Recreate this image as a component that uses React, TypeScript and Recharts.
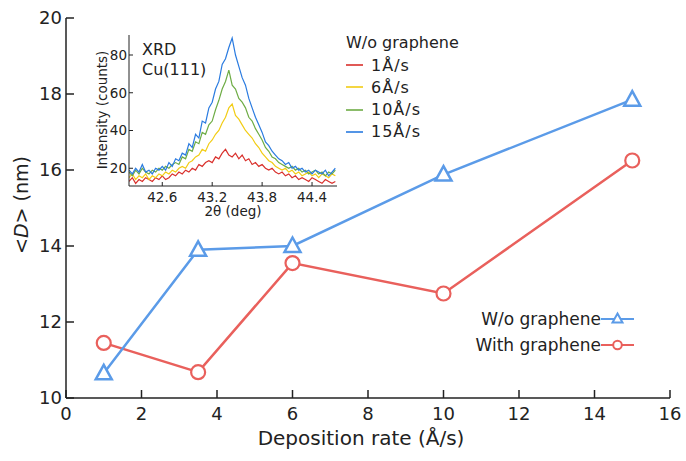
import React from 'react';
import { LineChart, Line, XAxis, YAxis, CartesianGrid } from 'recharts';

// main plot: mean grain size vs deposition rate
const rates = [1, 3.5, 6, 10, 15];
const sizeWithout = [10.65, 13.9, 14.0, 15.88, 17.85];
const sizeWith = [11.45, 10.68, 13.55, 12.75, 16.25];
const rateTicks = [0, 2, 4, 6, 8, 10, 12, 14, 16];
const sizeTicks = [10, 12, 14, 16, 18, 20];

// inset: XRD Cu(111) peak, counts
const twoTheta = [
  42.2, 42.24, 42.28, 42.32, 42.36, 42.4, 42.44, 42.48, 42.52, 42.56, 42.6, 42.64, 42.68, 42.72, 42.76, 42.8,
  42.84, 42.88, 42.92, 42.96, 43.0, 43.04, 43.08, 43.12, 43.16, 43.2, 43.24, 43.28, 43.32, 43.36, 43.4, 43.44,
  43.48, 43.52, 43.56, 43.6, 43.64, 43.68, 43.72, 43.76, 43.8, 43.84, 43.88, 43.92, 43.96, 44.0, 44.04, 44.08,
  44.12, 44.16, 44.2, 44.24, 44.28, 44.32, 44.36, 44.4, 44.44, 44.48, 44.52, 44.56, 44.6, 44.64, 44.68,
];
const counts1 = [
  13, 15, 12, 14, 13, 15, 14, 13, 15, 14, 16, 14, 15, 17, 16, 18, 17, 19, 18, 20, 19, 22, 21, 23, 24, 23, 26, 25,
  28, 30, 27, 26, 28, 25, 27, 24, 25, 22, 23, 21, 22, 20, 19, 20, 18, 17, 18, 16, 17, 15, 16, 14, 15, 14, 13, 15,
  14, 13, 12, 14, 13, 12, 13,
];
const counts6 = [
  15, 17, 14, 16, 15, 17, 14, 16, 15, 17, 16, 18, 17, 19, 18, 20, 21, 20, 23, 24, 26, 27, 30, 29, 33, 35, 38, 40,
  44, 47, 52, 54, 48, 46, 43, 40, 38, 36, 33, 31, 28, 26, 24, 23, 21, 20, 19, 20, 18, 19, 17, 18, 16, 17, 18, 16,
  17, 15, 17, 16, 15, 17, 16,
];
const counts10 = [
  18, 16, 19, 17, 20, 18, 17, 19, 18, 20, 19, 21, 20, 22, 23, 22, 26, 25, 30, 29, 34, 33, 39, 38, 43, 45, 51, 56,
  62, 66, 72, 64, 62, 57, 55, 52, 47, 45, 41, 38, 35, 31, 29, 26, 25, 23, 22, 21, 20, 21, 19, 20, 18, 19, 17, 18,
  19, 17, 18, 16, 18, 17, 19,
];
const counts15 = [
  19, 17, 20, 18, 22, 18, 19, 17, 20, 19, 21, 19, 23, 21, 25, 24, 28, 27, 33, 31, 38, 36, 45, 44, 52, 55, 62, 66,
  75, 78, 84, 89, 80, 74, 68, 64, 57, 52, 47, 43, 39, 34, 32, 29, 27, 25, 24, 22, 23, 20, 21, 19, 20, 18, 19, 17,
  19, 18, 17, 19, 16, 18, 20,
];
const thetaTicks = [42.6, 43.2, 43.8, 44.4];
const countTicks = [20, 40, 60, 80];

const BLUE = '#5b9be8';
const RED = '#e9605c';
const FONT = '"DejaVu Sans", Verdana, sans-serif';
const INK = '#222';

const mainSeries = [
  { key: 'wo', name: 'W/o graphene', color: BLUE, shape: 'triangle' },
  { key: 'with', name: 'With graphene', color: RED, shape: 'circle' },
];
const xrdSeries = [
  { key: 'r1', name: '1Å/s', color: '#d9302c' },
  { key: 'r6', name: '6Å/s', color: '#f2cc14' },
  { key: 'r10', name: '10Å/s', color: '#6eac45' },
  { key: 'r15', name: '15Å/s', color: '#2a7be0' },
];

const mainData = rates.map((x, i) => ({ x, wo: sizeWithout[i], with: sizeWith[i] }));
const xrdData = twoTheta.map((t, i) => ({ t, r1: counts1[i], r6: counts6[i], r10: counts10[i], r15: counts15[i] }));

const Triangle = (props: any) => {
  const { cx, cy } = props;
  if (cx == null || cy == null) return null;
  return (
    <path
      d={`M${cx},${cy - 8.5} L${cx + 8},${cy + 6} L${cx - 8},${cy + 6} Z`}
      fill="#fff"
      stroke={BLUE}
      strokeWidth={2.5}
    />
  );
};

const YLabel = (props: any) => {
  const vb = props.viewBox || { x: 0, y: 18, height: 380 };
  const x = vb.x + 28;
  const y = vb.y + vb.height / 2 - 3;
  return (
    <text x={x} y={y} transform={`rotate(-90, ${x}, ${y})`} textAnchor="middle" fontSize={19} fontFamily={FONT} fill={INK}>
      &lt;<tspan fontStyle="italic">D</tspan>&gt; (nm)
    </text>
  );
};

const XLabel = (props: any) => {
  const vb = props.viewBox || { x: 66, y: 398, width: 604 };
  return (
    <text x={vb.x + vb.width / 2 - 7} y={vb.y + 47} textAnchor="middle" fontSize={20} fontFamily={FONT} fill={INK}>
      Deposition rate (Å/s)
    </text>
  );
};

const IntensityLabel = () => (
  <text x={107} y={110} transform="rotate(-90, 107, 110)" textAnchor="middle" fontSize={13.5} fontFamily={FONT} fill={INK}>
    Intensity (counts)
  </text>
);

const ThetaLabel = () => (
  <text x={233} y={216} textAnchor="middle" fontSize={13.5} fontFamily={FONT} fill={INK}>
    2θ (deg)
  </text>
);

const mainTick = { fontSize: 18, fontFamily: FONT, fill: INK };
const insetTick = { fontSize: 13.5, fontFamily: FONT, fill: INK };
const frame = { stroke: INK, strokeWidth: 1.5 };
const insetFrame = { stroke: INK, strokeWidth: 1 };

export default function App() {
  return (
    <div style={{ position: 'absolute', left: 0, top: 0, width: 686, height: 461, background: '#fff', fontFamily: FONT }}>
      <LineChart width={686} height={461} data={mainData} margin={{ top: 18, right: 16, bottom: 0, left: 0 }}>
        <XAxis
          dataKey="x"
          type="number"
          domain={[0, 16]}
          ticks={rateTicks}
          interval={0}
          height={63}
          tickSize={-8}
          tickMargin={17}
          tick={mainTick}
          axisLine={frame}
          tickLine={frame}
          label={<XLabel />}
        />
        <XAxis
          xAxisId="top"
          orientation="top"
          type="number"
          domain={[0, 16]}
          allowDataOverflow
          ticks={rateTicks}
          interval={0}
          height={0}
          tickSize={-8}
          tick={false}
          axisLine={frame}
          tickLine={frame}
        />
        <YAxis
          type="number"
          domain={[10, 20]}
          ticks={sizeTicks}
          interval={0}
          width={66}
          tickSize={-8}
          tickMargin={12}
          tick={mainTick}
          axisLine={frame}
          tickLine={frame}
          label={<YLabel />}
        />
        <YAxis
          yAxisId="right"
          orientation="right"
          type="number"
          domain={[10, 20]}
          allowDataOverflow
          ticks={sizeTicks}
          interval={0}
          width={0}
          tickSize={-8}
          tick={false}
          axisLine={frame}
          tickLine={frame}
        />
        <Line
          dataKey="with"
          name="With graphene"
          stroke={RED}
          strokeWidth={2.5}
          dot={{ r: 7, fill: '#fff', stroke: RED, strokeWidth: 2.2 }}
          isAnimationActive={false}
        />
        <Line
          dataKey="wo"
          name="W/o graphene"
          stroke={BLUE}
          strokeWidth={2.5}
          dot={<Triangle />}
          isAnimationActive={false}
        />
      </LineChart>

      {/* inset */}
      <div style={{ position: 'absolute', left: 0, top: 0 }}>
        <LineChart width={480} height={230} data={xrdData} margin={{ top: 35, right: 143, bottom: 0, left: 0 }}>
          <CartesianGrid fill="#fff" stroke="none" horizontal={false} vertical={false} />
          <XAxis
            dataKey="t"
            type="number"
            domain={[42.2, 44.7]}
            allowDataOverflow
            ticks={thetaTicks}
            interval={0}
            height={44}
            tickSize={-4}
            tickMargin={10}
            tick={insetTick}
            axisLine={insetFrame}
            tickLine={insetFrame}
            label={<ThetaLabel />}
          />
          <XAxis
            xAxisId="top"
            orientation="top"
            type="number"
            domain={[42.2, 44.7]}
            allowDataOverflow
            ticks={thetaTicks}
            height={0}
            tick={false}
            tickLine={false}
            axisLine={insetFrame}
          />
          <YAxis
            type="number"
            domain={[10.6, 90.6]}
            allowDataOverflow
            ticks={countTicks}
            interval={0}
            width={129}
            tickSize={-4}
            tickMargin={6}
            tick={insetTick}
            axisLine={insetFrame}
            tickLine={insetFrame}
            label={<IntensityLabel />}
          />
          <YAxis
            yAxisId="right"
            orientation="right"
            type="number"
            domain={[10.6, 90.6]}
            allowDataOverflow
            ticks={countTicks}
            width={0}
            tick={false}
            tickLine={false}
            axisLine={insetFrame}
          />
          {xrdSeries.map((s) => (
            <Line
              key={s.key}
              dataKey={s.key}
              name={s.name}
              stroke={s.color}
              strokeWidth={1.2}
              dot={false}
              isAnimationActive={false}
            />
          ))}
        </LineChart>
      </div>

      {/* inset annotation */}
      <div style={{ position: 'absolute', left: 142, top: 40, fontSize: 16, lineHeight: '20px', color: INK }}>
        XRD
        <br />
        Cu(111)
      </div>

      {/* inset legend */}
      <div style={{ position: 'absolute', left: 346, top: 33, fontSize: 16, lineHeight: '20px', color: INK }}>
        W/o graphene
      </div>
      {xrdSeries.map((s, i) => (
        <div
          key={s.key}
          style={{ position: 'absolute', left: 346, top: 55 + i * 22.3, height: 20, display: 'flex', alignItems: 'center', fontSize: 16, color: INK }}
        >
          <svg width={18} height={20} style={{ marginRight: 7 }}>
            <line x1={0} x2={17} y1={10} y2={10} stroke={s.color} strokeWidth={1.6} />
          </svg>
          <span style={{ letterSpacing: 1 }}>{s.name}</span>
        </div>
      ))}

      {/* main legend */}
      {mainSeries.map((s, i) => (
        <div
          key={s.key}
          style={{ position: 'absolute', right: 686 - 634, top: 309 + i * 26, height: 20, display: 'flex', alignItems: 'center', fontSize: 17, color: INK }}
        >
          <span>{s.name}</span>
          <svg width={33} height={20}>
            <line x1={0} x2={33} y1={10} y2={10} stroke={s.color} strokeWidth={2} />
            {s.shape === 'triangle' ? (
              <path d="M16.5,4.5 L21.5,13.5 L11.5,13.5 Z" fill="#fff" stroke={s.color} strokeWidth={2} />
            ) : (
              <circle cx={16.5} cy={10} r={4.3} fill="#fff" stroke={s.color} strokeWidth={2} />
            )}
          </svg>
        </div>
      ))}
    </div>
  );
}
